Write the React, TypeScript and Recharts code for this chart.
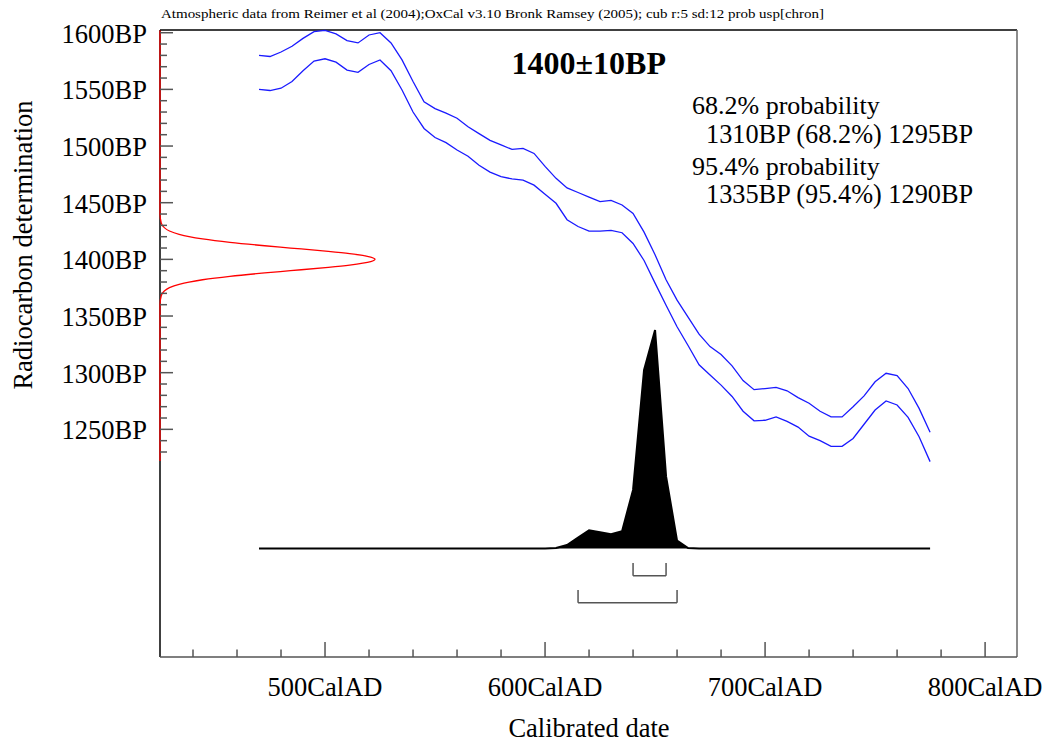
import React from 'react';
import { ComposedChart, Line, Area, Scatter, XAxis, YAxis, ReferenceLine } from 'recharts';

// Calibration curve (cal AD) and its 1-sigma envelope (BP)
const years = [470, 475, 480, 485, 490, 495, 500, 505, 510, 515, 520, 525, 530, 535, 540, 545, 550, 555, 560, 565, 570, 575, 580, 585, 590, 595, 600, 605, 610, 615, 620, 625, 630, 635, 640, 645, 650, 655, 660, 665, 670, 675, 680, 685, 690, 695, 700, 705, 710, 715, 720, 725, 730, 735, 740, 745, 750, 755, 760, 765, 770, 775];
const upperBP = [1580, 1579, 1583, 1588, 1595, 1601, 1602, 1599, 1593, 1591, 1598, 1600, 1591, 1576, 1557, 1539, 1533, 1529, 1524.5, 1517, 1511, 1505, 1501, 1497, 1498, 1493.5, 1482, 1471.5, 1463, 1459, 1455, 1451, 1452, 1448, 1440.5, 1424, 1404, 1382, 1364, 1349, 1334, 1323, 1316, 1306, 1293, 1285, 1286, 1287, 1284, 1278, 1273, 1266, 1261, 1261, 1270, 1279.5, 1292, 1299.5, 1297.5, 1286, 1268.5, 1247.5];
const lowerBP = [1550, 1549, 1551, 1557, 1566.5, 1575, 1577, 1574, 1567, 1565, 1572, 1576, 1566.5, 1549.5, 1530, 1515.5, 1507.5, 1503, 1496.5, 1491, 1483, 1477, 1473, 1471, 1470, 1465.5, 1457.5, 1449.5, 1435, 1429, 1425, 1425, 1425.5, 1423.5, 1414, 1399, 1379, 1359.5, 1340.5, 1324, 1307, 1298, 1289, 1279, 1266, 1257.5, 1258, 1261, 1257, 1252, 1244, 1240, 1235, 1235, 1242, 1254.5, 1267, 1275, 1271.5, 1260.5, 1243.5, 1221.5];
// Calibrated probability (relative to peak)
const probability = [0, 0, 0, 0, 0, 0, 0, 0, 0, 0, 0, 0, 0, 0, 0, 0, 0, 0, 0, 0, 0, 0, 0, 0, 0, 0, 0, 0.002, 0.016, 0.05, 0.083, 0.074, 0.065, 0.079, 0.268, 0.817, 1, 0.33, 0.036, 0.002, 0, 0, 0, 0, 0, 0, 0, 0, 0, 0, 0, 0, 0, 0, 0, 0, 0, 0, 0, 0, 0, 0];

// Radiocarbon measurement distribution (red, along the BP axis)
const measuredBP = [1602, 1440, 1432, 1428, 1425, 1422, 1420, 1418, 1415, 1412, 1410, 1407, 1405, 1402, 1400, 1398, 1395, 1393, 1390, 1388, 1385, 1382, 1380, 1378, 1375, 1372, 1368, 1360, 1222];
const measuredDensity = [0, 0, 0.006, 0.02, 0.044, 0.089, 0.135, 0.198, 0.325, 0.487, 0.607, 0.783, 0.882, 0.98, 1, 0.98, 0.882, 0.783, 0.607, 0.487, 0.325, 0.198, 0.135, 0.089, 0.044, 0.02, 0.006, 0, 0];

// Ranges (cal AD)
const range68 = [640, 655];
const range95 = [615, 660];

// Ticks
const xTickValues = [440, 460, 480, 500, 520, 540, 560, 580, 600, 620, 640, 660, 680, 700, 720, 740, 760, 780, 800];
const xLabelValues = [500, 600, 700, 800];
const yTickValues = [1230, 1240, 1250, 1260, 1270, 1280, 1290, 1300, 1310, 1320, 1330, 1340, 1350, 1360, 1370, 1380, 1390, 1400, 1410, 1420, 1430, 1440, 1450, 1460, 1470, 1480, 1490, 1500, 1510, 1520, 1530, 1540, 1550, 1560, 1570, 1580, 1590, 1600];
const yLabelValues = [1250, 1300, 1350, 1400, 1450, 1500, 1550, 1600];

const table = years.map((year, i) => ({ year, upper: upperBP[i], lower: lowerBP[i], prob: probability[i] }));
const redData = measuredBP.map((bp, i) => ({ bp, d: measuredDensity[i] }));

const FONT = '"Liberation Serif", "Times New Roman", serif';
const X_DOMAIN: [number, number] = [425, 814.5];
const Y_DOMAIN: [number, number] = [1049.1, 1602.4];
const P_DOMAIN: [number, number] = [-0.4966, 2.373];
const PLOT_BOTTOM = 657;
const PLOT_LEFT = 160;

const XTick = (props: any) => {
  const { x, payload } = props;
  const y = PLOT_BOTTOM;
  const major = xLabelValues.includes(payload.value);
  return (
    <g>
      <line x1={x} x2={x} y1={y} y2={y - (major ? 15 : 7.5)} stroke="#555" strokeWidth={1.5} />
      {major && (
        <text x={x} y={y + 39} textAnchor="middle" fontSize={26.5} fontFamily={FONT} fill="#000">
          {payload.value}CalAD
        </text>
      )}
    </g>
  );
};

const YTick = (props: any) => {
  const { y, payload } = props;
  const x = PLOT_LEFT;
  const major = yLabelValues.includes(payload.value);
  return (
    <g>
      <line x1={x} x2={x + (major ? 13 : 7)} y1={y} y2={y} stroke="#555" strokeWidth={1.5} />
      {major && (
        <text x={x - 13} y={y + 10} textAnchor="end" fontSize={26.5} fontFamily={FONT} fill="#000">
          {payload.value}BP
        </text>
      )}
    </g>
  );
};

const b68Top = -0.066;
const b68Bot = -0.1245;
const b95Top = -0.19;
const b95Bot = -0.248;

export default function App() {
  return (
    <div style={{ position: 'absolute', left: 0, top: 0, width: 1043, height: 744, background: '#fff' }}>
      <ComposedChart width={1043} height={744} data={table} margin={{ top: 30, right: 26, bottom: 47, left: 80 }}>
        <XAxis xAxisId="yr" dataKey="year" type="number" domain={X_DOMAIN} ticks={xTickValues} interval={0}
          tick={XTick} tickLine={false} axisLine={false} tickSize={0} tickMargin={0} height={40} />
        <XAxis xAxisId="red" dataKey="d" type="number" domain={[0, 3.986]} hide orientation="top" height={0} />
        <YAxis yAxisId="bp" type="number" domain={Y_DOMAIN} ticks={yTickValues} interval={0}
          tick={YTick} tickLine={false} axisLine={false} tickSize={0} tickMargin={0} width={80} />
        <YAxis yAxisId="bp2" dataKey="bp" type="number" domain={Y_DOMAIN} hide orientation="right" width={0} />
        <YAxis yAxisId="prob" type="number" domain={P_DOMAIN} hide orientation="right" width={0} />

        <ReferenceLine xAxisId="yr" yAxisId="bp" y={Y_DOMAIN[1]} stroke="#000" strokeWidth={1.5} ifOverflow="visible" />
        <ReferenceLine xAxisId="yr" yAxisId="bp" x={X_DOMAIN[0]} stroke="#000" strokeWidth={1.5} ifOverflow="visible" />
        <ReferenceLine xAxisId="yr" yAxisId="bp" x={X_DOMAIN[1]} stroke="#666" strokeWidth={1.5} ifOverflow="visible" />
        <ReferenceLine xAxisId="yr" yAxisId="bp" y={Y_DOMAIN[0]} stroke="#555" strokeWidth={1.5} ifOverflow="visible" />

        <Area xAxisId="yr" yAxisId="prob" dataKey="prob" type="linear" baseValue={0} stroke="#000" strokeWidth={2}
          fill="#000" fillOpacity={1} isAnimationActive={false} dot={false} activeDot={false} />
        <Line xAxisId="yr" yAxisId="bp" dataKey="upper" type="linear" stroke="#1a1aff" strokeWidth={1.3} dot={false} isAnimationActive={false} />
        <Line xAxisId="yr" yAxisId="bp" dataKey="lower" type="linear" stroke="#1a1aff" strokeWidth={1.3} dot={false} isAnimationActive={false} />
        <Scatter xAxisId="red" yAxisId="bp2" data={redData} line={{ stroke: '#ff0000', strokeWidth: 1.3 }} lineType="joint"
          lineJointType="monotoneY" shape={() => <g />} fill="none" isAnimationActive={false} />

        <ReferenceLine xAxisId="yr" yAxisId="prob" segment={[{ x: range68[0], y: b68Top }, { x: range68[0], y: b68Bot }]} stroke="#555" strokeWidth={1.5} />
        <ReferenceLine xAxisId="yr" yAxisId="prob" segment={[{ x: range68[0], y: b68Bot }, { x: range68[1], y: b68Bot }]} stroke="#555" strokeWidth={1.5} />
        <ReferenceLine xAxisId="yr" yAxisId="prob" segment={[{ x: range68[1], y: b68Top }, { x: range68[1], y: b68Bot }]} stroke="#555" strokeWidth={1.5} />
        <ReferenceLine xAxisId="yr" yAxisId="prob" segment={[{ x: range95[0], y: b95Top }, { x: range95[0], y: b95Bot }]} stroke="#555" strokeWidth={1.5} />
        <ReferenceLine xAxisId="yr" yAxisId="prob" segment={[{ x: range95[0], y: b95Bot }, { x: range95[1], y: b95Bot }]} stroke="#555" strokeWidth={1.5} />
        <ReferenceLine xAxisId="yr" yAxisId="prob" segment={[{ x: range95[1], y: b95Top }, { x: range95[1], y: b95Bot }]} stroke="#555" strokeWidth={1.5} />
      </ComposedChart>
      <svg width={1043} height={744} style={{ position: 'absolute', left: 0, top: 0, pointerEvents: 'none' }} fontFamily={FONT} fill="#000">
        <text x={161} y={18} fontSize={12.5} textLength={663} lengthAdjust="spacingAndGlyphs">Atmospheric data from Reimer et al (2004);OxCal v3.10 Bronk Ramsey (2005); cub r:5 sd:12 prob usp[chron]</text>
        <text x={511.5} y={74} fontSize={32} fontWeight="bold">1400±10BP</text>
        <text x={692} y={114} fontSize={26}>68.2% probability</text>
        <text x={706} y={143} fontSize={26.3}>1310BP (68.2%) 1295BP</text>
        <text x={692} y={174.5} fontSize={26}>95.4% probability</text>
        <text x={706} y={203} fontSize={26.3}>1335BP (95.4%) 1290BP</text>
        <text x={589} y={737} textAnchor="middle" fontSize={26.5}>Calibrated date</text>
        <text transform="translate(32,245) rotate(-90)" textAnchor="middle" fontSize={26.5}>Radiocarbon determination</text>
      </svg>
    </div>
  );
}
